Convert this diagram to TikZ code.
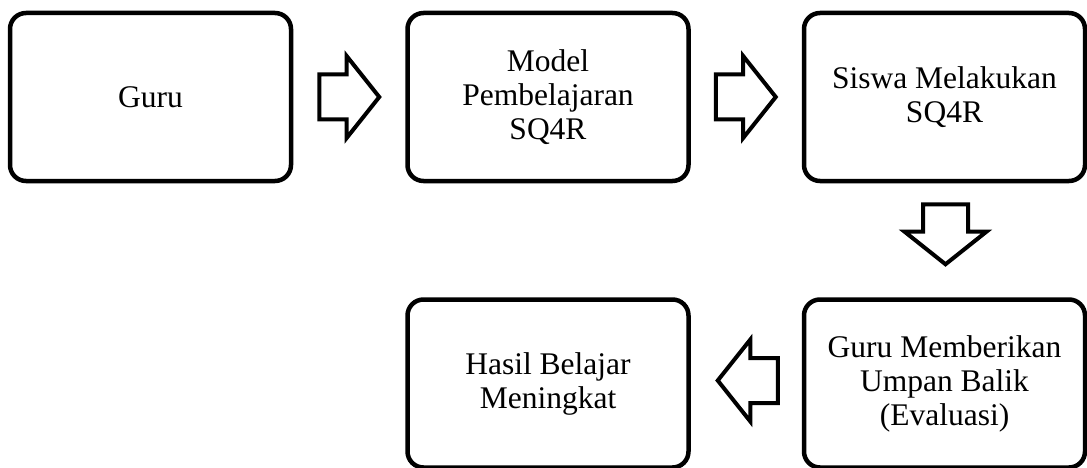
\documentclass[tikz,border=0pt]{standalone}
\usepackage{fontspec}
\setmainfont{Liberation Serif}
\usetikzlibrary{calc,positioning,shapes.arrows}

\begin{document}
\begin{tikzpicture}[box/.style={draw,line width=4.5pt,rounded corners=16pt,
    minimum width=281pt,minimum height=168pt,align=center,
    font=\fontsize{31.5}{34}\selectfont},
  blockarrow/.style={single arrow,draw,line width=4pt,fill=white,anchor=tail,
    minimum height=60pt,inner xsep=0pt,inner ysep=20.5pt,
    single arrow head extend=18.5pt,single arrow tip angle=103}]
\useasboundingbox (0,0) rectangle (1087pt,-468pt);
% top row
\node [box] (guru) at (150.5pt,-97pt) {Guru};
\node [box,right=112pt of guru] (model) {Model\\Pembelajaran\\SQ4R};
\node [box,right=111pt of model] (siswa) {Siswa Melakukan\\SQ4R};
% bottom row
\node [box,below=114pt of siswa] (umpan) {Guru Memberikan\\Umpan Balik\\(Evaluasi)};
\node [box,left=111pt of umpan] (hasil) {Hasil Belajar\\Meningkat};
% block arrows
\node [blockarrow] (a1) at ($ (guru.east) + (24pt,0) $) {};
\node [blockarrow] (a2) at ($ (model.east) + (23pt,0) $) {};
\node [blockarrow,rotate=-90] (a3) at ($ (siswa.south) + (1pt,-19pt) $) {};
\node [blockarrow,rotate=180] (a4) at ($ (umpan.west) + (-22pt,3pt) $) {};
\end{tikzpicture}
\end{document}
